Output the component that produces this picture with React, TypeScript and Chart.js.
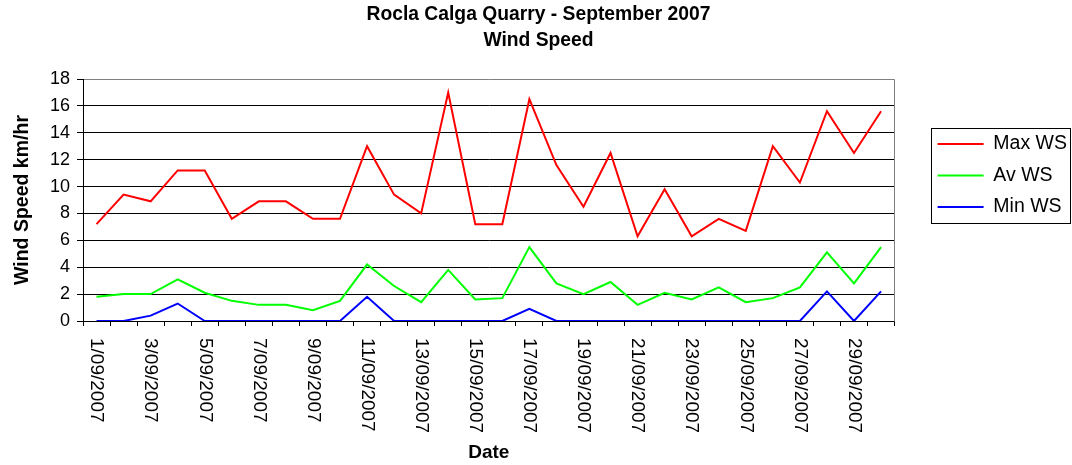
import { useEffect, useRef } from 'react';
import { Chart, registerables } from 'chart.js';

Chart.register(...registerables);

const FONT = '"Liberation Sans", Arial, Helvetica, sans-serif';

const titleLines = ['Rocla Calga Quarry - September 2007', 'Wind Speed'];
const xAxisTitle = 'Date';
const yAxisTitle = 'Wind Speed km/hr';

const dates = [
  '1/09/2007', '2/09/2007', '3/09/2007', '4/09/2007', '5/09/2007',
  '6/09/2007', '7/09/2007', '8/09/2007', '9/09/2007', '10/09/2007',
  '11/09/2007', '12/09/2007', '13/09/2007', '14/09/2007', '15/09/2007',
  '16/09/2007', '17/09/2007', '18/09/2007', '19/09/2007', '20/09/2007',
  '21/09/2007', '22/09/2007', '23/09/2007', '24/09/2007', '25/09/2007',
  '26/09/2007', '27/09/2007', '28/09/2007', '29/09/2007', '30/09/2007',
];

// every second date is labelled on the axis
const shownTickLabels = dates.filter((_, i) => i % 2 === 0);

const maxWS = [7.2, 9.4, 8.9, 11.2, 11.2, 7.6, 8.9, 8.9, 7.6, 7.6, 13.0, 9.4, 8.0, 17.0, 7.2, 7.2, 16.5, 11.6, 8.5, 12.5, 6.3, 9.8, 6.3, 7.6, 6.7, 13.0, 10.3, 15.6, 12.5, 15.6];
const avWS = [1.8, 2.0, 2.0, 3.1, 2.1, 1.5, 1.2, 1.2, 0.8, 1.5, 4.2, 2.6, 1.4, 3.8, 1.6, 1.7, 5.5, 2.8, 2.0, 2.9, 1.2, 2.1, 1.6, 2.5, 1.4, 1.7, 2.5, 5.1, 2.8, 5.5];
const minWS = [0, 0, 0.4, 1.3, 0, 0, 0, 0, 0, 0, 1.8, 0, 0, 0, 0, 0, 0.9, 0, 0, 0, 0, 0, 0, 0, 0, 0, 0, 2.2, 0, 2.2];

const seriesNames = ['Max WS', 'Av WS', 'Min WS'];
const seriesColors = ['#FF0000', '#00FF00', '#0000FF'];

const yMin = 0;
const yMax = 18;
const yStep = 2;

const alignPx = (v: number) => Math.round(v - 0.5) + 0.5;

const whiteBg = {
  id: 'whiteBg',
  beforeDraw(chart: any) {
    const { ctx, width, height } = chart;
    ctx.save();
    ctx.fillStyle = '#FFFFFF';
    ctx.fillRect(0, 0, width, height);
    ctx.restore();
  },
};

const plotBorder = {
  id: 'plotBorder',
  beforeDatasetsDraw(chart: any) {
    const { ctx, chartArea: a } = chart;
    ctx.save();
    ctx.strokeStyle = '#808080';
    ctx.lineWidth = 1;
    const x = alignPx(a.right);
    ctx.beginPath();
    ctx.moveTo(x, alignPx(a.top));
    ctx.lineTo(x, alignPx(a.bottom));
    ctx.stroke();
    ctx.restore();
  },
};

const rotatedXLabels = {
  id: 'rotatedXLabels',
  afterDraw(chart: any) {
    const { ctx, chartArea } = chart;
    const xs = chart.scales.x;
    ctx.save();
    ctx.font = `19px ${FONT}`;
    ctx.fillStyle = '#000';
    ctx.textAlign = 'left';
    ctx.textBaseline = 'middle';
    shownTickLabels.forEach((label) => {
      const idx = dates.indexOf(label);
      const px = xs.getPixelForValue(idx);
      ctx.save();
      ctx.translate(px, chartArea.bottom + 17);
      ctx.rotate(Math.PI / 2);
      ctx.fillText(label, 0, 0);
      ctx.restore();
    });
    ctx.restore();
  },
};

const legendFrame = {
  id: 'legendFrame',
  afterDraw(chart: any) {
    const lg = chart.legend;
    const hb = lg && lg.legendHitBoxes;
    if (!hb || !hb.length) return;
    const { ctx, width } = chart;
    const left = hb[0].left - 6;
    const top = hb[0].top - 5.5;
    const right = Math.min(Math.max(...hb.map((h: any) => h.left + h.width)) + 4, width - 1);
    const last = hb[hb.length - 1];
    const bottom = last.top + last.height + 6.5;
    ctx.save();
    ctx.strokeStyle = '#000';
    ctx.lineWidth = 1;
    ctx.strokeRect(alignPx(left), alignPx(top), Math.round(right - left), Math.round(bottom - top));
    ctx.restore();
  },
};

export default function App() {
  const canvasRef = useRef<HTMLCanvasElement | null>(null);

  useEffect(() => {
    if (!canvasRef.current) return;
    Chart.defaults.font.family = FONT;
    Chart.defaults.color = '#000';

    const values = [maxWS, avWS, minWS];
    const chart = new Chart(canvasRef.current, {
      type: 'line',
      data: {
        labels: dates,
        datasets: values.map((v, i) => ({
          label: seriesNames[i],
          data: v,
          borderColor: seriesColors[i],
          backgroundColor: seriesColors[i],
          borderWidth: 2,
          pointRadius: 0,
          pointHoverRadius: 0,
          tension: 0,
          fill: false,
        })),
      },
      options: {
        responsive: false,
        animation: false,
        events: [],
        layout: { padding: { left: 0, top: 0, right: -5, bottom: 0 } },
        plugins: {
          title: {
            display: true,
            text: titleLines,
            color: '#000',
            font: { family: FONT, size: 19.3, weight: 'bold', lineHeight: '26px' },
            padding: { top: 2, bottom: 25 },
          },
          legend: {
            position: 'right',
            align: 'start',
            title: { display: true, text: '', font: { size: 10 }, padding: { top: 0, bottom: 110.25 } },
            labels: {
              usePointStyle: true,
              pointStyle: 'line',
              pointStyleWidth: 46,
              color: '#000',
              font: { family: FONT, size: 19.5 },
              padding: 12,
            },
          },
          tooltip: { enabled: false },
        },
        scales: {
          x: {
            type: 'category',
            offset: true,
            grid: { offset: true, drawOnChartArea: false, drawTicks: true, tickLength: 5, color: '#000' },
            border: { color: '#000', width: 1 },
            ticks: { display: false, autoSkip: false },
            title: {
              display: true,
              text: xAxisTitle,
              color: '#000',
              font: { family: FONT, size: 19, weight: 'bold' },
              padding: { top: 0, bottom: 1 },
            },
            afterFit: (s: any) => { s.height = 144; },
          },
          y: {
            min: yMin,
            max: yMax,
            ticks: { stepSize: yStep, color: '#000', font: { family: FONT, size: 18 }, padding: 7 },
            grid: {
              color: (c: any) => (c.tick && c.tick.value === yMax ? '#808080' : '#000'),
              tickColor: '#000',
              tickLength: 6,
              lineWidth: 1,
            },
            border: { color: '#000', width: 1 },
            title: {
              display: true,
              text: yAxisTitle,
              color: '#000',
              font: { family: FONT, size: 19.5, weight: 'bold' },
              padding: { top: 11, bottom: 0 },
            },
            afterFit: (s: any) => { s.width = 83; },
          },
          gap: {
            type: 'linear',
            position: 'right',
            display: true,
            grid: { display: false, drawTicks: false },
            border: { display: false },
            ticks: { display: false },
            afterFit: (s: any) => { s.width = 31; },
          },
        },
      } as any,
      plugins: [whiteBg, plotBorder, rotatedXLabels, legendFrame],
    });

    return () => chart.destroy();
  }, []);

  return (
    <div style={{ position: 'absolute', left: 0, top: 0, width: 1072, height: 465 }}>
      <canvas ref={canvasRef} width={1072} height={465} style={{ display: 'block' }} />
    </div>
  );
}
